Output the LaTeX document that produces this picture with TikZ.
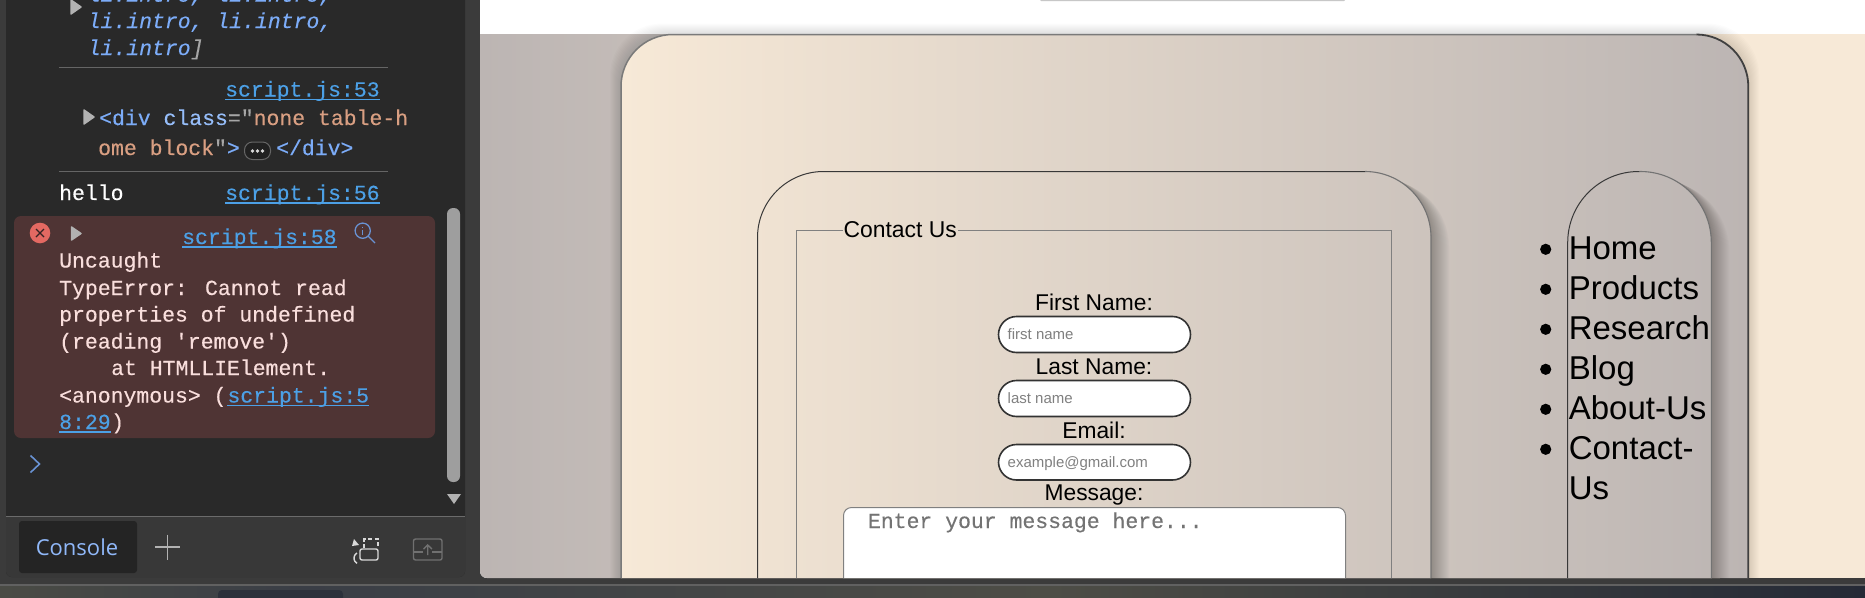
\documentclass[tikz,border=0pt]{standalone}
\usepackage{fontspec}
\setmainfont{Liberation Sans}
\newfontfamily\consolefont{Liberation Mono}[FakeBold=0.3]
\newfontfamily\tabfont{Open Sans}
\definecolor{panelbg}{HTML}{292929}
\definecolor{framebg}{HTML}{3B3B3B}
\definecolor{barbg}{HTML}{383838}
\definecolor{errbg}{HTML}{4F3434}
\definecolor{errtxt}{HTML}{F9DEDC}
\definecolor{linkblue}{HTML}{4CA0E6}
\definecolor{tagblue}{HTML}{7CACF8}
\definecolor{attrsalmon}{HTML}{D99F82}
\definecolor{cream}{HTML}{F7E9D7}
\definecolor{taupe}{HTML}{BCB5B3}
\definecolor{deskleft}{HTML}{4A4B45}
\definecolor{deskblue}{HTML}{3A3E46}
\definecolor{deskmid}{HTML}{4D4D46}
\definecolor{deskright}{HTML}{252A36}
\definecolor{errred}{HTML}{E46962}
\definecolor{winitem}{HTML}{2C313B}
\tikzset{
  mono/.style={anchor=base west,inner sep=0pt,font=\fontsize{21.45pt}{24pt}\consolefont},
  monoit/.style={mono,text=tagblue,font=\fontsize{21.45pt}{24pt}\consolefont\itshape},
  navtxt/.style={anchor=base west,inner sep=0pt,font=\fontsize{33pt}{36pt}\selectfont},
  formtxt/.style={anchor=base,inner sep=0pt,font=\fontsize{22.8pt}{26pt}\selectfont},
  holder/.style={anchor=base west,inner sep=0pt,text=black!50,font=\fontsize{15pt}{18pt}\selectfont},
  field/.style={fill=white,draw=black!80,line width=1.6pt,rounded corners=18pt},
  sep/.style={draw=white!28!panelbg,line width=1pt},
  tri/.style={fill=black!30,draw=black!30,line width=1.5pt,line join=round},
}
\newcommand{\softshadow}[9]{%
  \begin{scope}[even odd rule]
    \clip (0,0) rectangle (1865,597) [rounded corners=#5pt] (#1,#2) rectangle (#3,#4);
    \foreach \s in {1,...,#6}
      \fill[black,opacity=#9,rounded corners=#5pt] (#1+#7*\s,#2+#8*\s) rectangle (#3+\s,#4);
  \end{scope}}
\newcommand{\jslink}[4]{%
  \node[mono,text=linkblue] (#1) at (#2,#3) {#4};
  \draw[linkblue,line width=1.2pt] ([yshift=-3pt]#1.base west) -- ([yshift=-3pt]#1.base east);}

\begin{document}
\begin{tikzpicture}[x=1pt,y=-1pt]
\useasboundingbox (0,0) rectangle (1865,597);
\clip (0,0) rectangle (1865,597);
\fill[framebg] (0,0) rectangle (1865,597);
\shade[left color=deskleft,right color=deskblue] (0,586) rectangle (300,597);
\shade[left color=deskblue,right color=deskmid] (300,586) rectangle (1050,597);
\shade[left color=deskmid,right color=deskright] (1050,586) rectangle (1865,597);
\fill[winitem,rounded corners=4pt] (218,590) rectangle (343,610);
\draw[black!62,line width=1.5pt] (0,585) -- (1865,585);

% devtools panel
\fill[panelbg,rounded corners=6pt] (6,-20) rectangle (465,577);
\fill[barbg,rounded corners=6pt] (6,516) rectangle (465,577);
\fill[barbg] (6,516) rectangle (465,540);
\draw[black!58,line width=1pt] (6,516) -- (465,516);
\fill[black!38,rounded corners=6pt] (447,208) rectangle (460,482);
\fill[black!30] (447,494) -- (461,494) -- (454,504) -- cycle;

\fill[tri] (71,0) -- (81,7) -- (71,14) -- cycle;
\node[monoit] (listA) at (87.5,1.7) {li.intro, li.intro,};
\node[monoit] (listB) at (87.5,28) {li.intro, li.intro,};
\node[monoit] (listC) at (87.5,55) {li.intro{\color{black!35}]}};
\draw[sep] (59,67) -- (388,67);

\jslink{linkA}{225}{96.5}{script.js:53}
\fill[tri] (84,110) -- (94,117) -- (84,124) -- cycle;
\node[mono,text=tagblue] (divA) at (99,125) {<div {\color{tagblue!80!white}class}{\color{black!35}="}{\color{attrsalmon}none table-h}};
\node[mono,text=attrsalmon] (divB) at (98,155) {ome block{\color{black!35}"}{\color{tagblue}>}};
\draw[fill=black!87,draw=black!60,line width=1pt,rounded corners=8pt] (244.5,142) rectangle (270.5,159.5);
\foreach \d in {252.5,257.5,262.5}
  \fill[white!85!black] (\d,151) circle (1.9);
\node[mono,text=tagblue] (divC) at (276,155) {</div>};
\draw[sep] (59,171.5) -- (388,171.5);

\node[mono,text=white] (hello) at (59,200) {hello};
\jslink{linkB}{225}{200}{script.js:56}

% error block
\fill[errbg,rounded corners=7pt] (14,216) rectangle (435,438);
\fill[errred] (40,233) circle (10.3);
\draw[errbg!70!black,line width=1.2pt] (36,229) -- (44,237) (36,237) -- (44,229);
\fill[tri] (71.5,227) -- (81,233.5) -- (71.5,240) -- cycle;
\jslink{linkC}{182}{244}{script.js:58}
\draw[tagblue!85!black,line width=1.3pt] (362.7,230.7) circle (7.6) (368,236) -- (375,243);
\draw[tagblue!85!black,line width=1.3pt] (362.7,229.5) -- (362.7,234.5) (362.7,226.5) -- (362.7,227.8);
\node[mono,text=errtxt] (errA) at (59,267.5) {Uncaught};
\node[mono,text=errtxt] (errB) at (59,295) {TypeError: Cannot read};
\node[mono,text=errtxt] (errC) at (59,321.5) {properties of undefined};
\node[mono,text=errtxt] (errD) at (59,348.5) {(reading 'remove')};
\node[mono,text=errtxt] (errE) at (111,375) {at HTMLLIElement.};
\node[mono,text=errtxt] (errF) at (59,402.5) {<anonymous> (};
\jslink{linkD}{227.3}{402.5}{script.js:5}
\jslink{linkE}{59}{429}{8:29}
\node[mono,text=errtxt] (errG) at (111,429) {)};
\draw[tagblue!85!black,line width=1.6pt] (30.5,455.5) -- (39.5,464) -- (30.5,472.5);

% console bar
\fill[black!86,rounded corners=3pt] (19,521) rectangle (137,573);
\node[inner sep=0pt,text=tagblue!85!white,font=\fontsize{22pt}{26pt}\tabfont] (tabname) at (77,547) {Console};
\draw[black!30,line width=1.4pt] (155,547) -- (180,547) (167.5,534.5) -- (167.5,559.5);
\draw[black!15,line width=1.4pt,rounded corners=2pt] (360,549) rectangle (378,560);
\draw[black!15,line width=1.4pt,dash pattern=on 4pt off 2.5pt] (364,548) -- (364,539) -- (378,539) -- (378,548);
\draw[black!15,line width=1.4pt] (357,553) arc[start angle=240,end angle=120,radius=6];
\fill[black!15] (354,539) -- (359,545) -- (352,546) -- cycle;
\draw[black!56,line width=1.4pt,rounded corners=2pt] (413.5,539) rectangle (442,560);
\draw[black!56,line width=1.4pt] (413.5,552) -- (423,552) (432,552) -- (442,552);
\draw[black!56,line width=1.4pt] (427.7,555) -- (427.7,545) (423.5,549) -- (427.7,545) -- (432,549);

% page
\begin{scope}
\clip[rounded corners=7pt] (480,-20) rectangle (1900,578);
\fill[white] (480,-20) rectangle (1865,578);
\fill[black!22,rounded corners=1pt] (1040,-3) rectangle (1345,1);
\shade[left color=taupe,right color=cream] (480,34) rectangle (1720,578);
\fill[cream] (1720,34) rectangle (1865,578);

\softshadow{621}{34.5}{1748.3}{640}{52}{11}{-1}{-1}{.012}
\shade[left color=cream,right color=taupe,rounded corners=52pt] (621,34.5) rectangle (1748.3,640);
\draw[black!52,line width=1.5pt,rounded corners=52pt] (621,640) -- (621,34.5) -- (1696.3,34.5);
\draw[black!75,line width=1.8pt,rounded corners=52pt] (1696.3,34.5) -- (1748.3,34.5) -- (1748.3,640);

\softshadow{757.5}{171.5}{1431}{660}{66}{18}{0.5}{0.5}{.016}
\draw[black!78,line width=1pt,rounded corners=66pt] (757.5,660) -- (757.5,171.5) -- (1365,171.5);
\draw[black!55,line width=1.1pt,rounded corners=66pt] (1365,171.5) -- (1431,171.5) -- (1431,660);

\softshadow{1567.7}{171.5}{1711.3}{660}{71}{18}{0.5}{0.5}{.016}
\draw[black!78,line width=1pt,rounded corners=71pt] (1567.7,660) -- (1567.7,171.5) -- (1639.5,171.5);
\draw[black!55,line width=1.1pt,rounded corners=71pt] (1639.5,171.5) -- (1711.3,171.5) -- (1711.3,660);

% form
\node[anchor=base west,inner sep=0pt,font=\fontsize{22.9pt}{26pt}\selectfont] (legendtxt) at (843.3,237.3) {Contact Us};
\draw[black!50,line width=1pt] (843,230.5) -- (796.7,230.5) -- (796.7,640);
\draw[black!50,line width=1pt] (958,230.5) -- (1391,230.5) -- (1391,640);

\node[formtxt] (firstlabel) at (1094,310) {First Name:};
\draw[field] (998.5,316.5) rectangle (1190.5,352.5);
\node[holder] (firsthold) at (1007.5,339.5) {first name};
\node[formtxt] (lastlabel) at (1094,374) {Last Name:};
\draw[field] (998.5,380.5) rectangle (1190.5,416.5);
\node[holder] (lasthold) at (1007.5,403.5) {last name};
\node[formtxt] (maillabel) at (1094,438) {Email:};
\draw[field] (998.5,444.5) rectangle (1190.5,480);
\node[holder] (mailhold) at (1007.5,467) {example@gmail.com};
\node[formtxt] (msglabel) at (1094,500) {Message:};
\draw[fill=white,draw=black!50,line width=1pt,rounded corners=8pt] (843.5,507.5) rectangle (1345.5,640);
\node[mono,text=black!55] (msghold) at (867.8,528) {Enter your message here...};

% nav list
\foreach \y in {249.3,289.3,329.3,369.3,409.3,449.3}
  \fill[black] (1545.7,\y) circle (5.6);
\node[navtxt] (navA) at (1568.6,259.3) {Home};
\node[navtxt] (navB) at (1568.6,299.3) {Products};
\node[navtxt] (navC) at (1568.6,339.3) {Research};
\node[navtxt] (navD) at (1568.6,379.3) {Blog};
\node[navtxt] (navE) at (1568.6,419.3) {About-Us};
\node[navtxt] (navF) at (1568.6,459.3) {Contact-};
\node[navtxt] (navG) at (1568.6,499.3) {Us};
\end{scope}
\end{tikzpicture}
\end{document}
